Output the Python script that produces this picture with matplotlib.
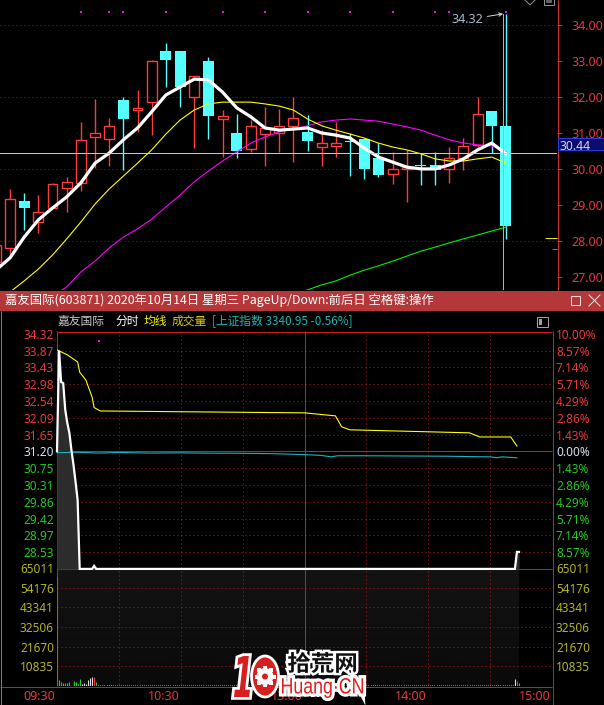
import numpy as np
import matplotlib
matplotlib.use('Agg')
import matplotlib.pyplot as plt
from matplotlib.patches import Rectangle, Circle, Ellipse, PathPatch
from matplotlib.textpath import TextPath
from matplotlib.font_manager import FontProperties
from matplotlib.transforms import Affine2D, blended_transform_factory
import matplotlib.patheffects as pe

plt.rcParams['font.family'] = ['Noto Sans CJK SC', 'DejaVu Sans']

# ====================== DATA ======================
# --- daily candles, day index -1 .. 35 (last = 2020-10-14)
day_index = list(range(-1, 36))
day_open = [27.41, 27.79, 29.10, 28.53, 28.90, 29.46, 29.60, 30.90, 30.84, 31.92,
            31.64, 31.87, 33.28, 33.28, 31.99, 33.01, 31.40, 31.00, 30.56, 30.98,
            30.99, 31.19, 31.03, 30.62, 30.64, 30.79, 30.84, 30.30, 29.85, 29.99,
            30.12, 30.12, 29.99, 30.30, 30.67, 31.61, 31.20]
day_high = [28.02, 29.44, 29.32, 29.27, 29.60, 29.77, 31.31, 31.95, 31.42, 32.00,
            32.20, 33.02, 33.52, 33.28, 32.60, 33.12, 31.64, 31.53, 31.36, 31.72,
            31.67, 32.00, 31.49, 31.08, 31.31, 30.99, 30.85, 30.73, 30.47, 30.53,
            30.43, 30.48, 30.60, 30.86, 31.99, 31.61, 34.32]
day_low = [27.18, 27.60, 28.30, 28.22, 28.90, 28.81, 29.39, 30.02, 30.08, 29.97,
           31.04, 30.94, 32.27, 31.72, 30.59, 30.84, 30.34, 30.31, 30.47, 30.09,
           30.47, 30.19, 30.50, 30.09, 30.34, 29.81, 29.71, 29.77, 29.59, 29.09,
           29.55, 29.55, 29.62, 29.97, 30.62, 30.43, 28.05]
day_close = [27.88, 29.17, 28.92, 28.81, 29.57, 29.64, 30.80, 30.99, 31.19, 31.39,
             31.70, 33.01, 33.03, 32.27, 32.60, 31.48, 31.47, 30.50, 31.20, 31.13,
             31.20, 31.41, 30.79, 30.71, 30.72, 30.74, 30.00, 29.83, 29.99, 30.06,
             30.08, 29.97, 30.31, 30.64, 31.52, 31.20, 28.41]
nan = float('nan')
ma5 = [27.18, 27.52, 28.10, 28.58, 28.91, 29.22, 29.61, 30.16, 30.44, 30.81,
       31.14, 31.59, 32.06, 32.28, 32.50, 32.48, 32.14, 31.70, 31.45, 31.14,
       31.08, 31.11, 31.14, 31.00, 30.94, 30.86, 30.58, 30.33, 30.19, 30.05,
       30.00, 30.00, 30.11, 30.28, 30.53, 30.72, 30.42]
ma10 = [26.30, 26.57, 26.88, 27.21, 27.60, 28.05, 28.52, 29.02, 29.44, 29.80,
        30.16, 30.53, 30.97, 31.36, 31.64, 31.81, 31.86, 31.86, 31.86, 31.81,
        31.75, 31.64, 31.39, 31.20, 31.08, 30.97, 30.86, 30.72, 30.61, 30.53,
        30.42, 30.28, 30.22, 30.22, 30.28, 30.33, 30.16]
ma20 = [nan, nan, nan, nan, 26.46, 26.71, 27.13, 27.43, 27.80, 28.10,
        28.33, 28.60, 28.94, 29.27, 29.64, 29.94, 30.22, 30.47, 30.72, 30.89,
        31.03, 31.11, 31.20, 31.31, 31.36, 31.39, 31.36, 31.33, 31.25, 31.17,
        31.08, 30.94, 30.81, 30.72, 30.67, 30.64, 30.47]
ma60 = [nan] * 21 + [26.52, 26.63, 26.77, 26.88, 27.04, 27.18, 27.30, 27.43,
                     27.57, 27.71, 27.82, 27.94, 28.05, 28.16, 28.27, 28.38]
signal_days = [5, 7, 8, 11, 15, 18, 21, 24, 27, 30, 31, 35]
day_axis_ticks = [34, 33, 32, 31, 30, 29, 28, 27]
day_grid = [34, 32, 30, 28]
cursor_price = 30.44

# --- intraday (minutes from 09:30, lunch break removed)
title_text = '嘉友国际(603871) 2020年10月14日 星期三 PageUp/Down:前后日 空格键:操作'
stock_name = '嘉友国际'
index_name = '上证指数'
index_last = 3340.95
index_chg = -0.56
prev_close = 31.20
price_minutes = [0, 1, 2, 3, 4, 5, 6, 7, 8, 9, 10, 11, 17, 18, 19, 222, 223, 224]
price_values = [31.20, 33.87, 33.04, 33.01, 32.30, 31.95, 31.69, 31.23, 30.84,
                30.39, 29.91, 28.08, 28.08, 28.16, 28.08, 28.08, 28.53, 28.53]
avg_minutes = [0, 5, 10, 11, 14, 17, 18, 21, 60, 120, 135, 138, 142, 200, 205, 220, 223]
avg_values = [33.89, 33.76, 33.57, 33.30, 33.09, 32.64, 32.36, 32.27, 32.25, 32.22,
              32.14, 31.85, 31.77, 31.69, 31.58, 31.58, 31.34]
index_minutes = [0, 10, 20, 30, 45, 60, 75, 90, 105, 120, 128, 133, 136, 150, 170,
                 190, 200, 210, 213, 216, 223]
index_pct = [-0.12, -0.08, -0.15, -0.10, -0.15, -0.13, -0.16, -0.17, -0.20, -0.28,
             -0.35, -0.47, -0.38, -0.38, -0.40, -0.42, -0.45, -0.47, -0.55, -0.47, -0.56]
vol_minutes = [0, 1, 2, 3, 4, 5, 6, 8, 9, 10, 11, 12, 13, 14, 15, 16, 17, 18, 19,
               222, 223, 224]
vol_values = [60060, 3300, 2200, 1650, 1650, 1650, 2200, 2750, 2200, 1100, 3860,
              1100, 1800, 1100, 3300, 4400, 4800, 4800, 2200, 3860, 2900, 1800]
vol_dir = ['u', 'd', 'd', 'd', 'd', 'd', 'd', 'd', 'd', 'd', 'd',
           'f', 'f', 'f', 'f', 'f', 'f', 'u', 'd', 'f', 'u', 'd']
quiet_minutes = (20, 221)     # limit-down period: tiny constant volume
quiet_volume = 500
vol_max = 65011
time_labels = ['09:30', '10:30', '13:00', '14:00', '15:00']
time_label_minutes = [0, 60, 120, 180, 240]
vgrid_dotted = [30, 60, 90, 150, 180, 210]
vgrid_solid = [120]

# ====================== STYLE / LAYOUT ======================
W, H = 604, 705
DPI = 100
PX = 72.0 / DPI  # one pixel in points
CANDLE_RED = '#ff3c3c'
CANDLE_CYAN = '#54ffff'
TXT_RED = '#e83838'
TXT_GREEN = '#22c822'
TXT_OLIVE = '#b4b41e'
GRID_TOP = '#8c1c1c'
GRID_LOW = '#c41414'
BORDER = '#cc1e1e'

fig = plt.figure(figsize=(W / DPI, H / DPI), dpi=DPI, facecolor='black')


def px_axes(x0, y0, x1, y1, z):
    ax = fig.add_axes([x0 / W, 1 - y1 / H, (x1 - x0) / W, (y1 - y0) / H])
    ax.set_facecolor('none')
    ax.set_axis_off()
    ax.set_zorder(z)
    return ax


ax_bg = px_axes(0, 0, W, H, 0)
ax_bg.set_xlim(0, W); ax_bg.set_ylim(H, 0)
ax_fg = px_axes(0, 0, W, H, 6)
ax_fg.set_xlim(0, W); ax_fg.set_ylim(H, 0)


def hline(ax, y, x0, x1, color, dotted=False, lw=1.0, z=1):
    ax.plot([x0, x1], [y, y], color=color, lw=lw * PX, zorder=z,
            linestyle=(0, (1, 3)) if dotted else '-', solid_capstyle='butt')


def vline(ax, x, y0, y1, color, dotted=False, lw=1.0, z=1):
    ax.plot([x, x], [y0, y1], color=color, lw=lw * PX, zorder=z,
            linestyle=(0, (1, 3)) if dotted else '-', solid_capstyle='butt')


# ---------------- top panel: daily candles ----------------
K_X0, K_DX = 10.0, 14.17          # pixel of day 0 and spacing
K_RIGHT, K_BOTTOM = 557, 289.5
P_REF, P_REF_Y, P_SCALE = 34.0, 25.3, 35.9   # price 34 at y=25.3, px per unit


def ky(p):
    return P_REF_Y + (P_REF - p) * P_SCALE


ax_k = px_axes(0, 0, K_RIGHT, K_BOTTOM, 2)
ax_k.set_xlim(-K_X0 / K_DX, (K_RIGHT - K_X0) / K_DX)
ax_k.set_ylim(P_REF - (K_BOTTOM - P_REF_Y) / P_SCALE, P_REF + P_REF_Y / P_SCALE)

for p in day_grid:
    ax_k.axhline(p, color=GRID_TOP, lw=PX, linestyle=(0, (1, 3)), zorder=1)

for k, o, h, l, c in zip(day_index, day_open, day_high, day_low, day_close):
    if c >= o:
        ax_k.add_patch(Rectangle((k - 0.35, o), 0.70, max(c - o, 0.04), fill=False,
                                 ec=CANDLE_RED, lw=1.0, zorder=3))
        ax_k.plot([k, k], [c, h], color=CANDLE_RED, lw=1.0, zorder=3, solid_capstyle='butt')
        ax_k.plot([k, k], [l, o], color=CANDLE_RED, lw=1.0, zorder=3, solid_capstyle='butt')
    else:
        ax_k.plot([k, k], [l, h], color=CANDLE_CYAN, lw=1.0, zorder=3, solid_capstyle='butt')
        ax_k.add_patch(Rectangle((k - 0.39, c), 0.78, max(o - c, 0.04), fc=CANDLE_CYAN,
                                 ec='none', zorder=3))

ax_k.plot(day_index, ma60, color='#00f000', lw=0.8, zorder=4)
ax_k.plot(day_index, ma20, color='#ff00ff', lw=0.8, zorder=4)
ax_k.plot(day_index, ma10, color='#ffff00', lw=0.8, zorder=4)
ax_k.plot(day_index, ma5, color='white', lw=2.3, zorder=5, solid_capstyle='round',
          solid_joinstyle='round')

trans_sig = blended_transform_factory(ax_k.transData, ax_k.transAxes)
ax_k.scatter(signal_days, [1 - 12 / K_BOTTOM] * len(signal_days), transform=trans_sig,
             marker='s', s=3.5, color='#ff00ff', lw=0, zorder=5, clip_on=False)

ax_k.axhline(cursor_price, color='#c8c8c8', lw=PX, zorder=6)
last = day_index[-1]
ax_k.plot([last - 0.2, last - 0.2], [day_high[-1], ax_k.get_ylim()[0]],
          color='#b0b0b0', lw=PX, zorder=6)
ax_k.annotate(f'{day_high[-1]:.2f}', xy=(last - 0.2, day_high[-1]),
              xytext=(-20, -6), textcoords='offset pixels', ha='right', va='center',
              color='#a8b8cc', fontsize=9, family='Noto Sans',
              arrowprops=dict(arrowstyle='->', color='#d8d8d8', lw=0.7,
                              shrinkA=1, shrinkB=0, mutation_scale=6), zorder=7)

# right price axis
vline(ax_bg, K_RIGHT + 0.5, 0, K_BOTTOM, '#c83030')
for p in day_axis_ticks:
    y = ky(p)
    hline(ax_bg, y, K_RIGHT, K_RIGHT + 5, '#c83030')
    ax_bg.text(603, y, f'{p:.2f}', color=TXT_RED, fontsize=9, family='Noto Sans',
               ha='right', va='center_baseline')
ax_bg.add_patch(Rectangle((558, ky(cursor_price) - 15), 46, 12, fc='#0c0c6e',
                          ec='#2a3cd8', lw=PX, zorder=3))
ax_bg.text(560, ky(cursor_price) - 8.5, f'{cursor_price:.2f}', color='#d0d8e8', fontsize=8.8,
           family='Noto Sans', ha='left', va='center_baseline', zorder=4)
# small MA markers at right edge
hline(ax_bg, ky(ma60[-1]) + 10.5, 545, K_RIGHT, '#e8e800')
hline(ax_bg, ky(ma60[-1]) + 22, 552, K_RIGHT, '#00d000')
# top right icons
ax_bg.plot([525, 530, 535], [0, 5, 0], color='#909090', lw=PX)
ax_bg.add_patch(Rectangle((544, -3), 10, 8, fill=False, ec='#909090', lw=PX))
ax_bg.add_patch(Rectangle((546, -1), 6, 4, fc='#606060', ec='none'))

# ---------------- title bar ----------------
ax_bg.add_patch(Rectangle((0, 290.5), W, 20, fc='#b4373a', ec='none', zorder=2))
ax_bg.text(5, 300.5, title_text, color='white', fontsize=8.9, ha='left', va='center', zorder=3)
ax_bg.add_patch(Rectangle((571, 295.5), 9, 9, fill=False, ec='#f0e0e0', lw=PX, zorder=3))
ax_bg.plot([589, 600], [295, 306], color='#f0e0e0', lw=PX, zorder=3)
ax_bg.plot([589, 600], [306, 295], color='#f0e0e0', lw=PX, zorder=3)

# ---------------- sub header ----------------
sub_y = 321.5
for txt, x, col in [(stock_name, 58, '#c8c8c8'), ('分时', 115, '#ffffff'),
                    ('均线', 144, '#f0f000'), ('成交量', 172, '#d8c800'),
                    (f'[{index_name} {index_last:.2f} {index_chg:.2f}%]', 212, '#1eb4b4')]:
    ax_bg.text(x, sub_y, txt, color=col, fontsize=8.5, ha='left', va='center')
ax_bg.add_patch(Rectangle((536.5, 316.5), 11, 10, fill=False, ec='#a0a0a0', lw=PX))
ax_bg.add_patch(Rectangle((538.5, 318.5), 3, 6, fc='#a0a0a0', ec='none'))

# ---------------- intraday price panel ----------------
L, R = 57, 552
P_TOP, P_BOT = 331, 569
V_TOP, V_BOT = 568, 686
mid_y = 451.3
ppx = 117.6 / (0.1 * prev_close)   # pixels per price unit


def py(p):
    return mid_y - (p - prev_close) * ppx


def mx(m):
    return L + (R - L) * m / 240.0


ax_p = px_axes(L, P_TOP, R, P_BOT, 2)
ax_p.set_xlim(0, 240)
ax_p.set_ylim(prev_close - (P_BOT - mid_y) / ppx, prev_close + (mid_y - P_TOP) / ppx)
ax_v = px_axes(L, V_TOP, R, V_BOT, 2)
ax_v.set_xlim(0, 240)
ax_v.set_ylim(0, vol_max)

# volume-panel shading (elapsed part)
shade = np.linspace(0.075, 0.04, 50).reshape(-1, 1)
ax_bg.imshow(np.repeat(shade, 2, axis=1), cmap='gray', vmin=0, vmax=1, aspect='auto',
             extent=(mx(0), mx(price_minutes[-1]), V_BOT, V_TOP + 1), zorder=0.5)

levels = [prev_close * (1 + 0.1 * j / 7) for j in range(7, -8, -1)]
for j, p in zip(range(7, -8, -1), levels):
    y = py(p)
    if j == 0:
        hline(ax_bg, y, L, R, BORDER, z=2)
        col = '#d0e4f4'
    elif abs(j) < 7:
        hline(ax_bg, y, L, R, GRID_LOW, dotted=True, z=2)
        col = TXT_RED if j > 0 else TXT_GREEN
    if j == 7:
        col = TXT_RED
    if j == -7:
        continue
    ax_bg.text(54, y, f'{p:.2f}', color=col, fontsize=8.5, family='Noto Sans',
               ha='right', va='center_baseline', zorder=3)
    ax_bg.text(556, y, f'{abs(j) * 10 / 7:.2f}%', color=col, fontsize=8.5,
               family='Noto Sans', ha='left', va='center_baseline', zorder=3)

for j in range(6, 0, -1):
    v = vol_max * j / 6
    y = V_BOT - (V_BOT - V_TOP) * j / 6
    if j < 6:
        hline(ax_bg, y, L, R, GRID_LOW, dotted=True, z=2)
    for xx, ha in [(54, 'right'), (556, 'left')]:
        ax_bg.text(xx, y, f'{v:.0f}', color=TXT_OLIVE, fontsize=8.5,
                   family='Noto Sans', ha=ha, va='center_baseline', zorder=3)

for m in vgrid_dotted:
    vline(ax_bg, mx(m), P_TOP, V_BOT, GRID_LOW, dotted=True, z=2)
for m in vgrid_solid:
    vline(ax_bg, mx(m), P_TOP, V_BOT, BORDER, z=2)

# borders
hline(ax_bg, P_TOP + 0.5, L, R, BORDER, z=2)
hline(ax_bg, V_TOP + 0.5, L, R, BORDER, z=2)
hline(ax_bg, V_BOT + 0.5, 0, R, BORDER, z=2)
vline(ax_bg, L - 0.5, P_TOP, V_BOT, BORDER, z=2)
vline(ax_bg, R + 0.5, P_TOP, H, BORDER, z=2)
vline(ax_bg, 0.5, 310.5, H, '#808080', z=2)
hline(ax_bg, H - 0.5, 0, W, '#808080', z=2)

for lab, m in zip(time_labels, time_label_minutes):
    ax_bg.text(mx(m) - 1.5, 695, lab, color=TXT_RED, fontsize=9, family='Noto Sans',
               ha='right', va='center_baseline', zorder=3)

# price line, fill, average, index
ax_p.fill_between(price_minutes, price_values, ax_p.get_ylim()[0], color='#2c2c2c',
                  lw=0, zorder=1)
index_price = [prev_close * (1 + q / 100) for q in index_pct]
ax_p.plot(index_minutes, index_price, color='#18b4c0', lw=0.8, zorder=3)
ax_p.plot(avg_minutes, avg_values, color='#ffff00', lw=0.8, zorder=3)
ax_p.plot(price_minutes, price_values, color='white', lw=1.6, zorder=4, clip_on=False,
          solid_joinstyle='miter')
ax_bg.add_patch(Rectangle((98, 339.5), 2, 2, fc='#ff00ff', ec='none', zorder=3))

# volume bars
col_map = {'u': '#ff3030', 'd': '#20d020', 'f': '#e0e0e0'}
ax_v.vlines(list(range(quiet_minutes[0], quiet_minutes[1] + 1)), 0, quiet_volume,
            color='#d8d8d8', lw=PX, zorder=3)
ax_v.vlines(vol_minutes, 0, vol_values, color=[col_map[d] for d in vol_dir],
            lw=1.1 * PX, zorder=3)

# ---------------- watermark ----------------


def path_box(ax, s, box, prop, fc, stroke=0.0, skew=0.0, z=10):
    tp = TextPath((0, 0), s, size=100, prop=prop)
    tp = tp.transformed(Affine2D().skew_deg(skew, 0))
    bb = tp.get_extents()
    x0, y0, x1, y1 = box
    sx = (x1 - x0) / bb.width
    sy = (y1 - y0) / bb.height
    tr = Affine2D().translate(-bb.x0, -bb.y0).scale(sx, -sy).translate(x0, y1)
    patch = PathPatch(tr.transform_path(tp), fc=fc, ec='none', zorder=z)
    if stroke:
        patch.set_path_effects([pe.Stroke(linewidth=stroke, foreground='white'), pe.Normal()])
    ax.add_patch(patch)


bold = FontProperties(family='DejaVu Sans', weight='bold')
cjk_bold = FontProperties(family='Noto Sans CJK SC', weight='bold')
lib = FontProperties(family='Liberation Sans', weight='normal')
WM_RED = '#d81e1e'
path_box(ax_fg, '1', (234, 656, 250, 697), bold, WM_RED, stroke=4.0, skew=12)
ring = Ellipse((265, 676.5), 27, 41, fc=WM_RED, ec='white', lw=2.0, zorder=10)
ax_fg.add_patch(ring)
for a in np.arange(0, 360, 45):
    t = np.deg2rad(a)
    ax_fg.add_patch(Rectangle((265 + 8.5 * np.cos(t) - 2, 676.5 + 8.5 * np.sin(t) - 2), 4, 4,
                              angle=0, fc='white', ec='none', zorder=11))
ax_fg.add_patch(Circle((265, 676.5), 8.5, fc='white', ec='none', zorder=11))
ax_fg.add_patch(Circle((265, 676.5), 3.0, fc=WM_RED, ec='none', zorder=12))
path_box(ax_fg, '拾荒网', (288, 652, 356, 673), cjk_bold, '#101010', stroke=3.5)
path_box(ax_fg, 'Huang·CN', (282, 678, 363, 698), lib, '#e02020', stroke=4.5)

fig.savefig('out.png', dpi=DPI, facecolor='black')
